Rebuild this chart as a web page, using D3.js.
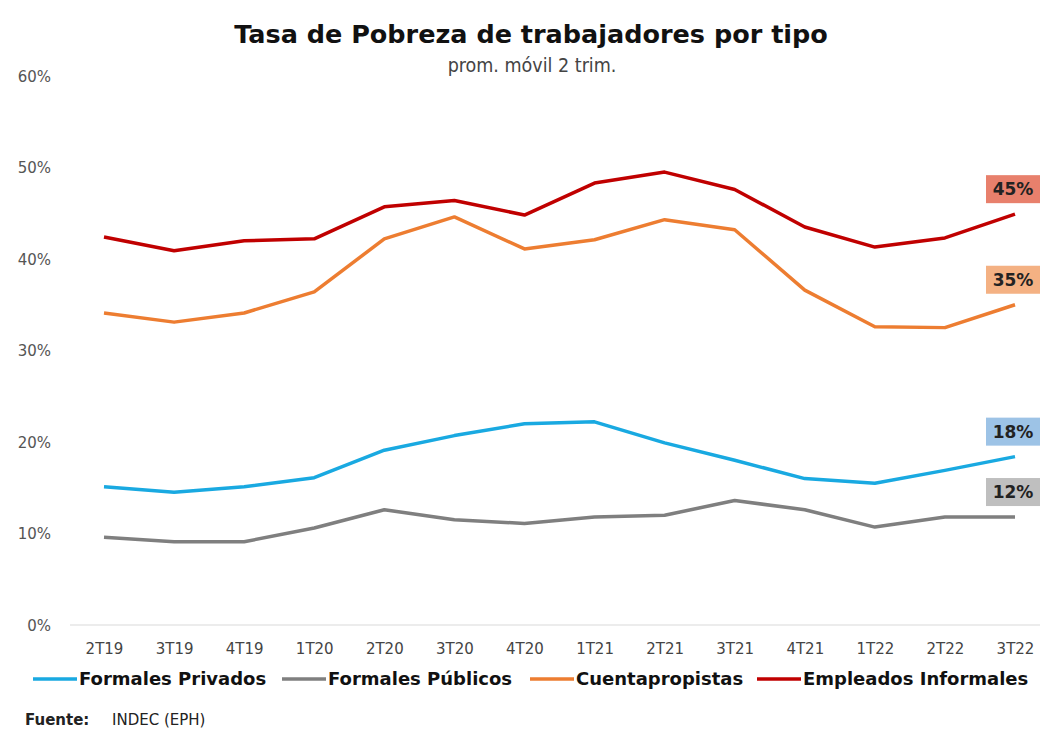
<!DOCTYPE html>
<html>
<head>
<meta charset="utf-8">
<script src="https://cdn.jsdelivr.net/npm/d3@7"></script>
<style>
  body { margin: 0; background: #fff; }
  svg { display: block; }
</style>
</head>
<body>
<script>
// data
var periods = ['2T19', '3T19', '4T19', '1T20', '2T20', '3T20', '4T20', '1T21', '2T21', '3T21', '4T21', '1T22', '2T22', '3T22'];

var formalesPrivados = [15.1, 14.5, 15.1, 16.1, 19.1, 20.7, 22.0, 22.2, 19.9, 18.0, 16.0, 15.5, 16.9, 18.4];
var formalesPublicos = [9.6, 9.1, 9.1, 10.6, 12.6, 11.5, 11.1, 11.8, 12.0, 13.6, 12.6, 10.7, 11.8, 11.8];
var cuentapropistas = [34.1, 33.1, 34.1, 36.4, 42.2, 44.6, 41.1, 42.1, 44.3, 43.2, 36.6, 32.6, 32.5, 35.0];
var empleadosInformales = [42.4, 40.9, 42.0, 42.2, 45.7, 46.4, 44.8, 48.3, 49.5, 47.6, 43.5, 41.3, 42.3, 44.9];

var yTicks = [0, 10, 20, 30, 40, 50, 60];

var series = [
  { name: 'Formales Privados', values: formalesPrivados, color: '#19A9E1', label: '#9DC3E6' },
  { name: 'Formales Públicos', values: formalesPublicos, color: '#7F7F7F', label: '#BFBFBF' },
  { name: 'Cuentapropistas', values: cuentapropistas, color: '#ED7D31', label: '#F4B183' },
  { name: 'Empleados Informales', values: empleadosInformales, color: '#C00000', label: '#E8806C' }
];

var width = 1040, height = 730;

var svg = d3.select('body').append('svg')
  .attr('width', width)
  .attr('height', height);

var x = d3.scalePoint()
  .domain(periods)
  .range([104, 1015]);

var y = d3.scaleLinear()
  .domain([0, 60])
  .range([625, 76]);

// title
svg.append('text')
  .attr('x', 531).attr('y', 43)
  .attr('text-anchor', 'middle')
  .style('font-family', 'DejaVu Sans, Verdana, sans-serif')
  .style('font-weight', 'bold')
  .style('font-size', '25.5px')
  .style('fill', '#111')
  .text('Tasa de Pobreza de trabajadores por tipo');

svg.append('text')
  .attr('x', 532).attr('y', 72)
  .attr('text-anchor', 'middle')
  .style('font-family', 'DejaVu Sans Condensed, DejaVu Sans, sans-serif')
  .style('font-size', '19.5px')
  .style('fill', '#444')
  .text('prom. móvil 2 trim.');

// zero line
svg.append('line')
  .attr('x1', 70).attr('x2', 1040)
  .attr('y1', y(0)).attr('y2', y(0))
  .style('stroke', '#d9d9d9')
  .style('stroke-width', 1);

// y axis
var yAxis = svg.append('g')
  .attr('transform', 'translate(51,0)')
  .call(d3.axisLeft(y).tickValues(yTicks).tickSize(0).tickPadding(0)
    .tickFormat(function(d) { return d + '%'; }));
yAxis.select('.domain').remove();
yAxis.selectAll('text')
  .attr('dy', '0.35em')
  .style('font-family', 'DejaVu Sans, sans-serif')
  .style('font-size', '15px')
  .style('fill', '#555');

// x axis
var xAxis = svg.append('g')
  .attr('transform', 'translate(0,' + y(0) + ')')
  .call(d3.axisBottom(x).tickSize(0).tickPadding(18));
xAxis.select('.domain').remove();
xAxis.selectAll('text')
  .style('font-family', 'DejaVu Sans, sans-serif')
  .style('font-size', '15px')
  .style('fill', '#444');

// lines
var line = d3.line()
  .x(function(d, i) { return x(periods[i]); })
  .y(function(d) { return y(d); });

svg.selectAll('path.serie')
  .data(series)
  .enter()
  .append('path')
  .classed('serie', true)
  .attr('d', function(d) { return line(d.values); })
  .style('fill', 'none')
  .style('stroke', function(d) { return d.color; })
  .style('stroke-width', 3.5)
  .style('stroke-linejoin', 'round');

// end labels
var last = periods.length - 1;
var endLabels = svg.selectAll('g.end-label')
  .data(series)
  .enter()
  .append('g')
  .classed('end-label', true)
  .attr('transform', function(d) {
    return 'translate(' + (x(periods[last]) - 29) + ',' + (y(d.values[last]) - 25) + ')';
  });

endLabels.append('rect')
  .attr('x', 0).attr('y', -14)
  .attr('width', 56).attr('height', 28)
  .style('fill', function(d) { return d.label; });

endLabels.append('text')
  .attr('x', 27).attr('y', 0)
  .attr('dy', '0.35em')
  .attr('text-anchor', 'middle')
  .style('font-family', 'DejaVu Sans, Verdana, sans-serif')
  .style('font-weight', 'bold')
  .style('font-size', '17px')
  .style('fill', '#222')
  .text(function(d) { return Math.round(d.values[last]) + '%'; });

// legend
var legendX = [33, 282, 530, 757];
var legend = svg.selectAll('g.legend')
  .data(series)
  .enter()
  .append('g')
  .classed('legend', true)
  .attr('transform', function(d, i) { return 'translate(' + legendX[i] + ',679)'; });

legend.append('line')
  .attr('x1', 0).attr('x2', 44)
  .style('stroke', function(d) { return d.color; })
  .style('stroke-width', 3.5);

legend.append('text')
  .attr('x', 46)
  .attr('dy', '0.35em')
  .style('font-family', 'DejaVu Sans, Verdana, sans-serif')
  .style('font-weight', 'bold')
  .style('font-size', '18px')
  .style('fill', '#111')
  .text(function(d) { return d.name; });

// source
var src = svg.append('text')
  .attr('x', 25).attr('y', 725)
  .style('font-family', 'DejaVu Sans, Verdana, sans-serif')
  .style('font-size', '15px')
  .style('fill', '#222');
src.append('tspan').style('font-weight', 'bold').text('Fuente:');
src.append('tspan').attr('x', 112).text('INDEC (EPH)');
</script>
</body>
</html>
